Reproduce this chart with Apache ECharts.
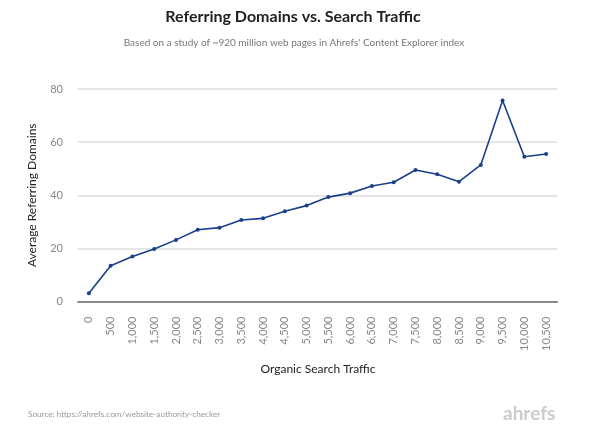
<!DOCTYPE html>
<html><head><meta charset="utf-8">
<script src="https://cdn.jsdelivr.net/npm/echarts@6/dist/echarts.min.js"></script>
<style>html,body{margin:0;padding:0;background:#fff}#c{width:606px;height:438px}</style>
</head><body><div id="c"></div>
<script>
const categories = ['0','500','1,000','1,500','2,000','2,500','3,000','3,500','4,000','4,500','5,000','5,500','6,000','6,500','7,000','7,500','8,000','8,500','9,000','9,500','10,000','10,500'];
const referringDomains = [3.1,13.5,16.9,19.8,23.2,27.0,27.8,30.7,31.3,34.0,36.1,39.3,40.8,43.5,44.9,49.5,47.9,45.1,51.4,75.7,54.5,55.5];
const yTicks = [0,20,40,60,80];

const chart = echarts.init(document.getElementById('c'), null, {renderer:'canvas'});
const F = 'Lato, "Noto Sans", sans-serif';
chart.setOption({
  animation:false,
  textStyle:{fontFamily:F},
  graphic:[
    {type:'text', x:293, y:9, style:{text:'Referring Domains vs. Search Traffic', font:'bold 16px '+F, fill:'#222', align:'center'}},
    {type:'text', x:294, y:38, style:{text:"Based on a study of ~920 million web pages in Ahrefs' Content Explorer index", font:'10px '+F, fill:'#777', align:'center'}},
    {type:'text', x:318, y:363, style:{text:'Organic Search Traffic', font:'12px '+F, fill:'#222', align:'center'}},
    {type:'text', x:28, y:410, style:{text:'Source: https://ahrefs.com/website-authority-checker', font:'8.2px '+F, fill:'#999'}},
    {type:'text', x:503, y:404, style:{text:'ahrefs', font:'bold 19px '+F, fill:'#ccc'}}
  ],
  grid:{left:78, right:49, top:89, bottom:136.5, containLabel:false},
  xAxis:{
    type:'category', data:categories, boundaryGap:true,
    axisLine:{lineStyle:{color:'#888', width:2}},
    axisTick:{alignWithLabel:true, length:6, lineStyle:{color:'#888', width:1}},
    axisLabel:{rotate:90, margin:15, color:'#888', fontSize:11, fontFamily:F, interval:0}
  },
  yAxis:{
    type:'value', min:yTicks[0], max:yTicks[yTicks.length-1], interval:20,
    name:'Average Referring Domains', nameLocation:'middle', nameGap:40,
    nameTextStyle:{color:'#222', fontSize:12, fontFamily:F},
    axisLine:{show:false}, axisTick:{show:false},
    axisLabel:{color:'#888', fontSize:11, margin:15, fontFamily:F},
    splitLine:{lineStyle:{color:'#ddd', width:1.5}}
  },
  series:[{
    type:'line', data:referringDomains, symbol:'circle', symbolSize:4,
    lineStyle:{color:'#1a3f8a', width:1.6}, itemStyle:{color:'#1a3f8a'}
  }]
});
</script></body></html>
